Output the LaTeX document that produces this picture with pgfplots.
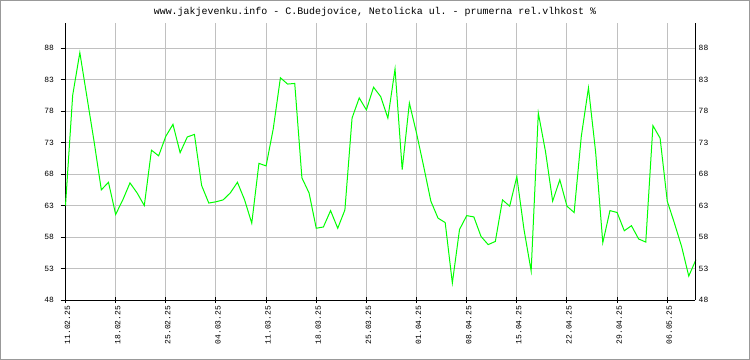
\documentclass[border=0pt]{standalone}
\usepackage{pgfplots}
\pgfplotsset{compat=1.18}
\usepackage{pgfplotstable}
\usepackage{fontspec}
\setmonofont{Liberation Mono}
\definecolor{gridc}{RGB}{192,192,192}
\definecolor{limec}{RGB}{0,255,0}
\pgfplotstableread{
d v
0 63.0
1 80.5
2 87.3
3 80.2
4 73.1
5 65.5
6 66.7
7 61.6
8 63.9
9 66.6
10 65.0
11 63.0
12 71.8
13 70.9
14 74.0
15 75.9
16 71.4
17 73.9
18 74.3
19 66.2
20 63.4
21 63.6
22 63.9
23 65.0
24 66.7
25 63.9
26 60.2
27 69.7
28 69.3
29 75.2
30 83.3
31 82.3
32 82.4
33 67.4
34 65.0
35 59.4
36 59.6
37 62.2
38 59.4
39 62.3
40 76.9
41 80.1
42 78.2
43 81.8
44 80.3
45 76.9
46 84.7
47 68.7
48 79.3
49 74.5
50 69.2
51 63.7
52 61.0
53 60.3
54 50.7
55 59.2
56 61.4
57 61.2
58 58.1
59 56.8
60 57.3
61 63.9
62 62.9
63 67.6
64 59.2
65 52.6
66 77.7
67 71.6
68 63.7
69 67.1
70 62.9
71 61.9
72 74.0
73 81.7
74 71.5
75 57.1
76 62.2
77 61.9
78 59.0
79 59.8
80 57.7
81 57.2
82 75.7
83 73.7
84 63.7
85 60.2
86 56.5
87 51.8
88 54.4
}\datatable
\begin{document}
\begin{tikzpicture}
\useasboundingbox (0,0) rectangle (750bp,360bp);
\fill[white] (0,0) rectangle (750bp,360bp);
\draw[gray!80, line width=1bp] (0.5bp,0.5bp) rectangle (749.5bp,359.5bp);
\node[font=\ttfamily\fontsize{10}{11}\selectfont] at (375bp,348bp) {www.jakjevenku.info - C.Budejovice, Netolicka ul. - prumerna rel.vlhkost \%};
\begin{axis}[
  at={(65.5bp,60bp)}, anchor=south west,
  scale only axis, width=629.7bp, height=277bp,
  xmin=0, xmax=87.9, ymin=48, ymax=92,
  axis x line*=bottom, axis y line*=left,
  axis line style={black, line width=1bp},
  xtick={0,7,...,84},
  xticklabels={11.02.25,18.02.25,25.02.25,04.03.25,11.03.25,18.03.25,25.03.25,01.04.25,08.04.25,15.04.25,22.04.25,29.04.25,06.05.25},
  ytick={48,53,...,88},
  grid=major,
  major grid style={gridc, line width=1bp},
  major tick length=5bp,
  xtick align=center, ytick align=outside,
  tick style={black, line width=1bp},
  /pgf/number format/assume math mode=true,
  ticklabel style={font=\ttfamily\fontsize{8}{8}\selectfont},
  xticklabel style={rotate=90, anchor=east, xshift=0bp, yshift=-2bp},
  yticklabel style={xshift=-3bp},
  clip=false,
]
\addplot[limec, line width=1bp, mark=none] table[x=d, y=v] {\datatable};
\end{axis}
\begin{axis}[
  at={(65.5bp,60bp)}, anchor=south west,
  scale only axis, width=629.7bp, height=277bp,
  xmin=0, xmax=87.9, ymin=48, ymax=92,
  axis x line=none, axis y line*=right,
  axis line style={black, line width=1bp},
  ytick={48,53,...,88},
  major tick length=0pt,
  /pgf/number format/assume math mode=true,
  ticklabel style={font=\ttfamily\fontsize{8}{8}\selectfont},
]
\end{axis}
\end{tikzpicture}
\end{document}
